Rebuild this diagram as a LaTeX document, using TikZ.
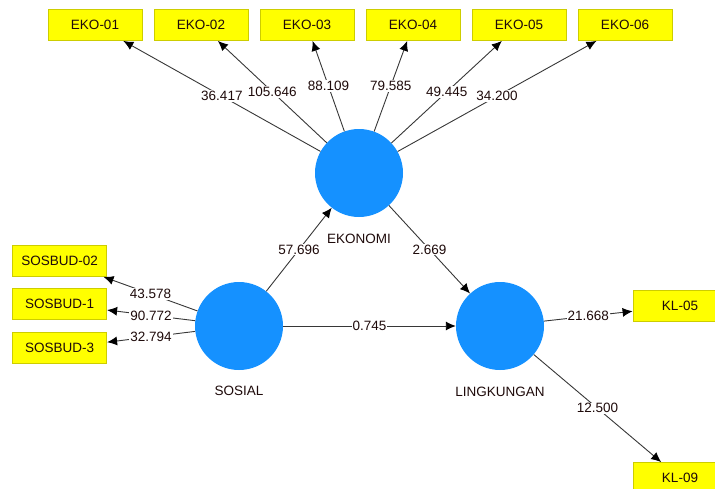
\documentclass[tikz,border=0pt]{standalone}
\usepackage{fontspec}
\setmainfont{Liberation Sans}
\usetikzlibrary{arrows.meta}
\definecolor{lvblue}{RGB}{21,145,255}
\definecolor{boxyellow}{RGB}{255,255,0}
\definecolor{boxedge}{RGB}{205,205,0}
\definecolor{edgegray}{RGB}{55,55,55}
\definecolor{txt}{RGB}{30,10,10}
\begin{document}
\begin{tikzpicture}[x=1pt,y=-1pt,
  font=\fontsize{13.5}{15}\selectfont,
  every node/.style={text=txt},
  ind/.style={draw=boxedge, fill=boxyellow, line width=0.8pt, minimum width=94pt, minimum height=31pt, inner sep=0pt},
  lv/.style={circle, fill=lvblue, minimum size=88pt, inner sep=0pt},
  lvlabel/.style={inner sep=1pt},
  conn/.style={draw=edgegray, line width=0.9pt, -{Latex[length=10pt,width=9pt,color=black]}},
  coef/.style={fill=white, inner sep=1pt}]
\useasboundingbox (0,0) rectangle (715,488);

% latent variables
\node[lv] (eko) at (359,173) {};
\node[lv] (sos) at (239,326) {};
\node[lv] (ling) at (500,326) {};
\node[lvlabel] (ekolab) at (359,239) {EKONOMI};
\node[lvlabel] (soslab) at (239,391) {SOSIAL};
\node[lvlabel] (linglab) at (500,392) {LINGKUNGAN};

% indicators
\node[ind] (e1) at (95,25) {EKO-01};
\node[ind] (e2) at (201,25) {EKO-02};
\node[ind] (e3) at (307,25) {EKO-03};
\node[ind] (e4) at (413,25) {EKO-04};
\node[ind] (e5) at (519,25) {EKO-05};
\node[ind] (e6) at (625,25) {EKO-06};
\node[ind] (s2) at (59.7,261) {SOSBUD-02};
\node[ind] (s1) at (59.7,304.3) {SOSBUD-1};
\node[ind] (s3) at (59.7,348) {SOSBUD-3};
\node[ind] (k5) at (680,306) {KL-05};
\node[ind] (k9) at (680,478) {KL-09};

% connectors
\draw[conn] (eko) -- node[coef]{36.417} (e1);
\draw[conn] (eko) -- node[coef]{105.646} (e2);
\draw[conn] (eko) -- node[coef]{88.109} (e3);
\draw[conn] (eko) -- node[coef]{79.585} (e4);
\draw[conn] (eko) -- node[coef]{49.445} (e5);
\draw[conn] (eko) -- node[coef]{34.200} (e6);
\draw[conn] (sos) -- node[coef]{43.578} (s2);
\draw[conn] (sos) -- node[coef]{90.772} (s1);
\draw[conn] (sos) -- node[coef]{32.794} (s3);
\draw[conn] (sos) -- node[coef]{57.696} (eko);
\draw[conn] (eko) -- node[coef]{2.669} (ling);
\draw[conn] (sos) -- node[coef]{0.745} (ling);
\draw[conn] (ling) -- node[coef]{21.668} (k5);
\draw[conn] (ling) -- node[coef]{12.500} (k9);
\end{tikzpicture}
\end{document}
